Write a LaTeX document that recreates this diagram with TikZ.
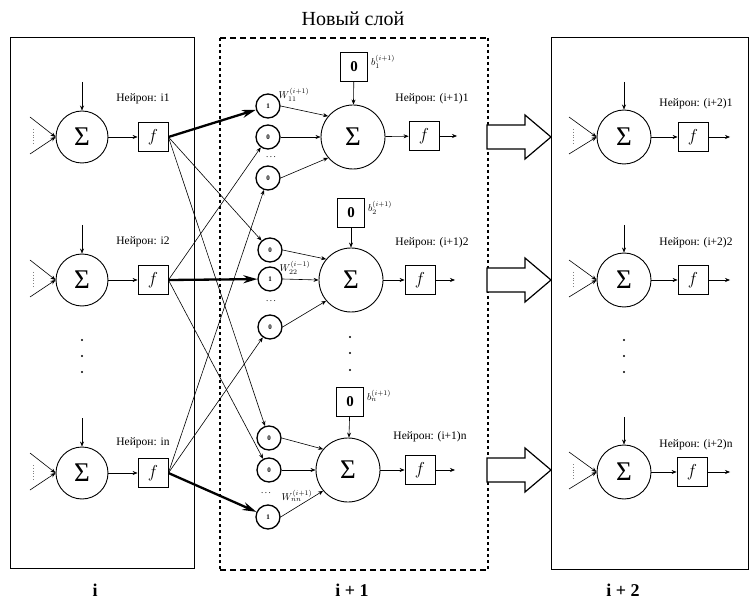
\documentclass[tikz,border=0pt]{standalone}
\usepackage{fontspec}
\setmainfont{Liberation Serif}
\usetikzlibrary{arrows.meta,calc}
\begin{document}
\begin{tikzpicture}[x=1pt,y=-1pt,
  sumbase/.style={circle,draw,line width=0.9pt,inner sep=0pt,font=\fontsize{27}{27}\selectfont},
  sumL/.style={sumbase,minimum size=52pt},
  sumM/.style={sumbase,minimum size=64pt},
  sumR/.style={sumbase,minimum size=54pt},
  fnode/.style={rectangle,draw,line width=0.8pt,minimum width=30pt,minimum height=29pt,inner sep=0pt,font=\fontsize{17}{17}\selectfont},
  biasnode/.style={rectangle,draw,line width=0.8pt,minimum width=27pt,minimum height=29pt,inner sep=0pt,font=\fontsize{15}{15}\selectfont\bfseries},
  incirc/.style={circle,draw,line width=1.3pt,minimum size=24pt,inner sep=0pt,font=\fontsize{7}{7}\selectfont\bfseries},
  lbl/.style={font=\fontsize{11.5}{12}\selectfont},
  wlbl/.style={font=\fontsize{10}{10}\selectfont,inner sep=0pt},
  conn/.style={-{Stealth[length=5pt,width=4pt]},line width=0.6pt},
  heavy/.style={-{Stealth[length=14pt,width=8pt]},line width=2.3pt},
  hdots/.style={font=\fontsize{9}{9}\selectfont,inner sep=0pt},
  vdot/.style={circle,fill,inner sep=0pt,minimum size=2.2pt},
  layerbox/.style={draw,line width=1pt},
  blockarrow/.style={draw,line width=1.2pt,fill=white,line join=miter}
]
\useasboundingbox (0,0) rectangle (749,601);

% ---------- frames ----------
\draw[layerbox] (10,38) rectangle (194,568);
\draw[layerbox] (551,38) rectangle (748,569);
\draw[line width=1.3pt,dash pattern=on 6pt off 4pt] (220,38) -- (488,38);
\draw[line width=1.3pt,dash pattern=on 6pt off 4pt] (220,570) -- (488,570);
\draw[line width=1.8pt,dash pattern=on 3pt off 3pt] (220,38) -- (220,570);
\draw[line width=1.8pt,dash pattern=on 3pt off 3pt] (488,38) -- (488,570);

% ---------- titles ----------
\node[font=\fontsize{20}{22}\selectfont] (title) at (353,19) {Новый слой};
\node[font=\fontsize{18}{20}\selectfont\bfseries] (labi) at (95,590) {i};
\node[font=\fontsize{18}{20}\selectfont\bfseries] (labi1) at (352,590) {i + 1};
\node[font=\fontsize{18}{20}\selectfont\bfseries] (labi2) at (623,590) {i + 2};

% ---------- layer i ----------
\foreach \n/\y/\t/\ly in {1/137/i1/99, 2/280/i2/242, n/473/in/443}{
  \node[sumL] (L\n) at (82,\y) {Σ};
  \node[fnode] (fL\n) at (153,\y) {$f$};
  \draw[conn] (L\n) -- (fL\n);
  \coordinate (tL\n) at (82,\y-55);
  \draw[conn] (tL\n) -- (L\n);
  \coordinate (aL\n) at (30,\y-20);
  \coordinate (bL\n) at (30,\y+17);
  \draw[conn] (aL\n) -- (L\n.west);
  \draw[conn] (bL\n) -- (L\n.west);
  \draw[dotted,gray,line width=0.8pt] (33,\y-8) -- (33,\y+8);
  \node[lbl] (nL\n) at (143,\ly) {Нейрон: \t};
}
\node[vdot] (dl1) at (82,340) {};
\node[vdot] (dl2) at (82,356) {};
\node[vdot] (dl3) at (82,372) {};

% ---------- layer i+1 ----------
\node[sumM] (M1) at (353,137) {Σ};
\node[sumM] (M2) at (351,280) {Σ};
\node[sumM] (Mn) at (348,470) {Σ};

\node[biasnode] (B1) at (354,67) {0};
\node[biasnode] (B2) at (351,213) {0};
\node[biasnode] (Bn) at (350,402) {0};
\draw[conn] (B1) -- (M1);
\draw[conn] (B2) -- (M2);
\draw[conn] (Bn) -- (Mn);
\node[wlbl,anchor=north west] (bl1) at ($(B1.north east)+(3,3)$) {$b_1^{(i+1)}$};
\node[wlbl,anchor=north west] (bl2) at ($(B2.north east)+(3,3)$) {$b_2^{(i+1)}$};
\node[wlbl,anchor=north west] (bln) at ($(Bn.north east)+(3,3)$) {$b_n^{(i+1)}$};

% input circles
\node[incirc] (c11) at (268,106) {1};
\node[incirc] (c12) at (268,137) {0};
\node[incirc] (c13) at (268,178) {0};
\node[hdots] (d1) at (271,157) {.\,.\,.};
\node[incirc] (c21) at (270,250) {0};
\node[incirc] (c22) at (270,279) {1};
\node[incirc] (c23) at (270,327) {0};
\node[hdots] (d2) at (271,301) {.\,.\,.};
\node[incirc] (cn1) at (269,438) {0};
\node[incirc] (cn2) at (269,470) {0};
\node[incirc] (cn3) at (268,517) {1};
\node[hdots] (dn) at (266,493) {.\,.\,.};

\draw[conn] (c11.east) -- (M1.140);
\draw[conn] (c12.east) -- (M1.west);
\draw[conn] (c13.east) -- (M1.220);
\draw[conn] (c21.east) -- (M2.140);
\draw[conn] (c22.east) -- (M2.west);
\draw[conn] (c23.east) -- (M2.220);
\draw[conn] (cn1.east) -- (Mn.140);
\draw[conn] (cn2.east) -- (Mn.west);
\draw[conn] (cn3.east) -- (Mn.220);

\node[wlbl] (w11) at (294,95) {$W_{11}^{(i+1)}$};
\node[wlbl] (w22) at (295,268) {$W_{22}^{(i-1)}$};
\node[wlbl] (wnn) at (297,496) {$W_{nn}^{(i+1)}$};

% connections from layer i
\draw[heavy] (fL1.east) -- (c11);
\draw[conn] (fL1.east) -- (c21);
\draw[conn] (fL1.east) -- (cn1);
\draw[conn] (fL2.east) -- (c12);
\draw[heavy] (fL2.east) -- (c22);
\draw[conn] (fL2.east) -- (cn2);
\draw[conn] (fLn.east) -- (c13);
\draw[conn] (fLn.east) -- (c23);
\draw[heavy] (fLn.east) -- (cn3);

% activation boxes
\node[fnode] (fM1) at (424,136) {$f$};
\node[fnode] (fM2) at (420,280) {$f$};
\node[fnode] (fMn) at (420,470) {$f$};
\draw[conn] (M1) -- (fM1);
\draw[conn] (M2) -- (fM2);
\draw[conn] (Mn) -- (fMn);
\coordinate (oM1) at (457,136);
\coordinate (oM2) at (455,280);
\coordinate (oMn) at (455,470);
\draw[conn] (fM1) -- (oM1);
\draw[conn] (fM2) -- (oM2);
\draw[conn] (fMn) -- (oMn);

\node[lbl] (nM1) at (432,99) {Нейрон: (i+1)1};
\node[lbl] (nM2) at (432,243) {Нейрон: (i+1)2};
\node[lbl] (nMn) at (430,437) {Нейрон: (i+1)n};

\node[vdot] (dm1) at (350,337) {};
\node[vdot] (dm2) at (350,353) {};
\node[vdot] (dm3) at (350,370) {};

% ---------- block arrows ----------
\foreach \k/\y in {1/137, 2/280, n/470}{
  \coordinate (ba\k) at (487,\y);
  \coordinate (bb\k) at (551,\y);
  \draw[blockarrow] ($(ba\k)+(0,-12)$) -- ($(bb\k)+(-26,-12)$) -- ($(bb\k)+(-26,-22)$)
     -- (bb\k) -- ($(bb\k)+(-26,22)$) -- ($(bb\k)+(-26,12)$) -- ($(ba\k)+(0,12)$) -- cycle;
}

% ---------- layer i+2 ----------
\foreach \n/\y/\fx/\ly in {1/137/693/104, 2/280/693/243, n/472/692/445}{
  \node[sumR] (R\n) at (624,\y) {Σ};
  \node[fnode] (fR\n) at (\fx,\y) {$f$};
  \draw[conn] (R\n) -- (fR\n);
  \coordinate (oR\n) at (730,\y);
  \draw[conn] (fR\n) -- (oR\n);
  \coordinate (tR\n) at (624,\y-55);
  \draw[conn] (tR\n) -- (R\n);
  \coordinate (aR\n) at (569,\y-20);
  \coordinate (bR\n) at (569,\y+17);
  \draw[conn] (aR\n) -- (R\n.west);
  \draw[conn] (bR\n) -- (R\n.west);
  \draw[dotted,gray,line width=0.8pt] (573,\y-8) -- (573,\y+8);
  \node[lbl] (nR\n) at (696,\ly) {Нейрон: (i+2)\n};
}
\node[vdot] (dr1) at (624,340) {};
\node[vdot] (dr2) at (624,356) {};
\node[vdot] (dr3) at (624,372) {};

\end{tikzpicture}
\end{document}
